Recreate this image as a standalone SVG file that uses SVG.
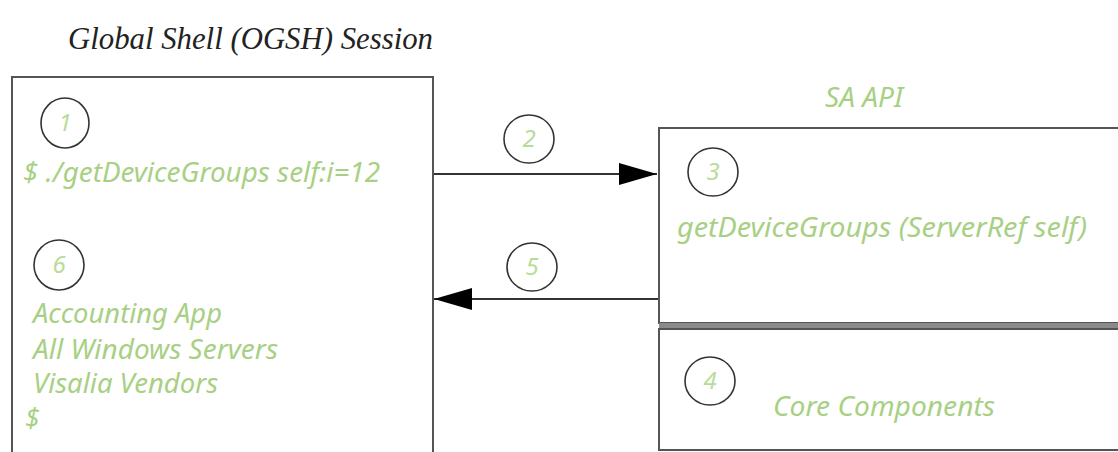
<svg xmlns="http://www.w3.org/2000/svg" width="1118" height="452" viewBox="0 0 1118 452">
<style>
.box{fill:#fff;stroke:#555;stroke-width:2}
.num{fill:none;stroke:#333;stroke-width:1.6}
.g{font-family:"Noto Sans","DejaVu Sans",sans-serif;font-style:italic;fill:#a8d084;font-size:27px}
.n{font-family:"Noto Sans","DejaVu Sans",sans-serif;font-style:italic;fill:#b8dc98;font-size:24px;text-anchor:middle}
.title{font-family:"Liberation Serif",serif;font-style:italic;font-size:31px;fill:#222}
.line{stroke:#333;stroke-width:2;fill:none}
</style>
<defs>
<marker id="ah" markerWidth="40" markerHeight="24" refX="38" refY="11" orient="auto" markerUnits="userSpaceOnUse">
<path d="M0,0 L38,11 L0,22 Z" fill="#000"/>
</marker>
</defs>
<rect width="1118" height="452" fill="#fff"/>
<text class="title" x="68" y="49" textLength="365" lengthAdjust="spacingAndGlyphs">Global Shell (OGSH) Session</text>
<g id="ogsh">
<rect class="box" x="12" y="77" width="421" height="390"/>
<ellipse class="num" cx="65" cy="123" rx="24" ry="25"/>
<text class="n" x="65" y="131">1</text>
<text class="g" x="23" y="182" textLength="357" lengthAdjust="spacingAndGlyphs">$ ./getDeviceGroups self:i=12</text>
<ellipse class="num" cx="59" cy="265" rx="25" ry="25"/>
<text class="n" x="59" y="273">6</text>
<text class="g" x="33" y="323" textLength="189" lengthAdjust="spacingAndGlyphs">Accounting App</text>
<text class="g" x="33" y="359" textLength="245" lengthAdjust="spacingAndGlyphs">All Windows Servers</text>
<text class="g" x="33" y="393" textLength="185" lengthAdjust="spacingAndGlyphs">Visalia Vendors</text>
<text class="g" x="25" y="428">$</text>
</g>
<text class="g" x="825" y="107" textLength="78" lengthAdjust="spacingAndGlyphs">SA API</text>
<g id="saapi">
<rect class="box" x="659" y="128" width="470" height="195"/>
<ellipse class="num" cx="713" cy="172" rx="25" ry="24"/>
<text class="n" x="713" y="180">3</text>
<text class="g" x="677" y="237" textLength="410" lengthAdjust="spacingAndGlyphs">getDeviceGroups (ServerRef self)</text>
</g>
<rect x="659" y="323" width="470" height="6" fill="#8a8a8a"/>
<g id="core">
<rect class="box" x="659" y="329" width="470" height="121"/>
<ellipse class="num" cx="710" cy="381" rx="25" ry="24"/>
<text class="n" x="710" y="389">4</text>
<text class="g" x="773" y="416" textLength="222" lengthAdjust="spacingAndGlyphs">Core Components</text>
</g>
<g id="connectors">
<line class="line" x1="434" y1="174" x2="657" y2="174" marker-end="url(#ah)"/>
<ellipse class="num" cx="529" cy="139" rx="25" ry="24"/>
<text class="n" x="529" y="147">2</text>
<line class="line" x1="658" y1="299" x2="434" y2="299" marker-end="url(#ah)"/>
<ellipse class="num" cx="532" cy="267" rx="25" ry="24"/>
<text class="n" x="532" y="275">5</text>
</g>
</svg>
